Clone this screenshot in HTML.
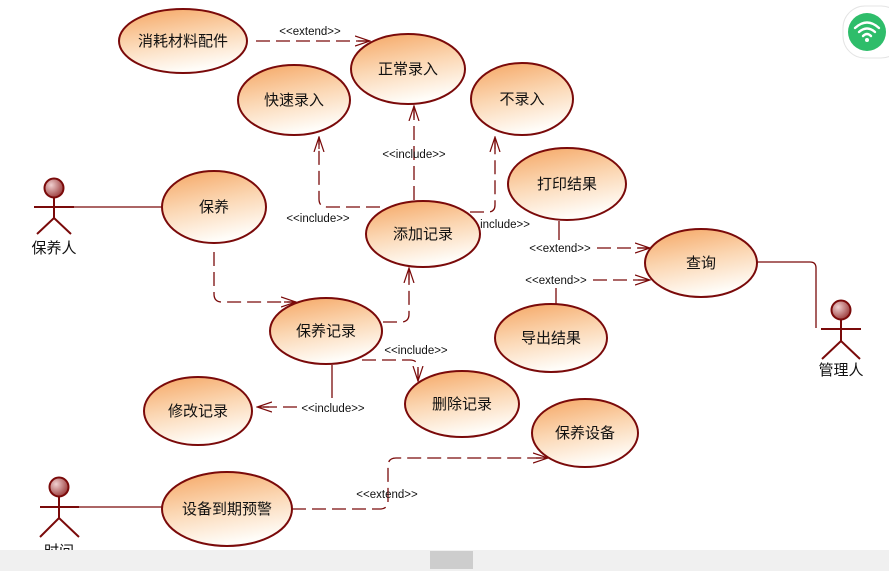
<!DOCTYPE html>
<html><head><meta charset="utf-8"><style>
html,body{margin:0;padding:0;background:#fff;width:889px;height:571px;overflow:hidden}
svg text{font-family:"Liberation Sans","Noto Sans CJK SC",sans-serif;fill:#111}
</style></head><body>
<svg width="889" height="571" viewBox="0 0 889 571" xmlns="http://www.w3.org/2000/svg">
<defs>
<linearGradient id="g" x1="0.1" y1="0" x2="0.4" y2="1">
<stop offset="0" stop-color="#f5a765"/><stop offset="0.5" stop-color="#fbd6b2"/><stop offset="1" stop-color="#fffdf9"/>
</linearGradient>
<radialGradient id="h" cx="0.35" cy="0.35" r="0.7"><stop offset="0" stop-color="#f0d0d0"/><stop offset="1" stop-color="#9a3a3a"/></radialGradient>
<marker id="a" markerWidth="16" markerHeight="12" refX="15" refY="6" orient="auto" markerUnits="userSpaceOnUse">
<path d="M0,1 L15,6 L0,11 M3,6 L15,6" fill="none" stroke="#7a0a0a" stroke-width="1.2"/>
</marker>
</defs>
<g fill="none" stroke="#7a0a0a" stroke-width="1.3">
<line x1="73" y1="207" x2="162" y2="207"/>
<line x1="79" y1="507" x2="162" y2="507"/>
<path d="M757,262 H810 Q816,262 816,268 V328"/>
<g stroke-dasharray="14,6">
<path d="M256,41 H370" marker-end="url(#a)"/>
<path d="M414,200 V106" marker-end="url(#a)"/>
<path d="M380,207 H327 Q319,207 319,199 V137" marker-end="url(#a)"/>
<path d="M470,212 H488 Q495,212 495,205 V137" marker-end="url(#a)"/>
<path d="M214,252 V294 Q214,302 222,302 H296" marker-end="url(#a)"/>
<path d="M383,322 H401 Q409,322 409,314 V268" marker-end="url(#a)"/>
<path d="M362,360 H410 Q418,360 418,368 V381" marker-end="url(#a)"/>
<path d="M297,407 H257" marker-end="url(#a)"/>
<path d="M597,248 H650" marker-end="url(#a)"/>
<path d="M593,280 H650" marker-end="url(#a)"/>
<path d="M292,509 H380 Q388,509 388,501 V466 Q388,458 396,458 H548" marker-end="url(#a)"/>
</g>
<line x1="332" y1="365" x2="332" y2="398"/>
<line x1="559" y1="221" x2="559" y2="240"/>
<line x1="556" y1="288" x2="556" y2="305"/>
</g>
<g fill="url(#g)" stroke="#7a0a0a" stroke-width="2">
<ellipse cx="183" cy="41" rx="64" ry="32"/>
<ellipse cx="408" cy="69" rx="57" ry="35"/>
<ellipse cx="294" cy="100" rx="56" ry="35"/>
<ellipse cx="522" cy="99" rx="51" ry="36"/>
<ellipse cx="214" cy="207" rx="52" ry="36"/>
<ellipse cx="423" cy="234" rx="57" ry="33"/>
<ellipse cx="567" cy="184" rx="59" ry="36"/>
<ellipse cx="701" cy="263" rx="56" ry="34"/>
<ellipse cx="551" cy="338" rx="56" ry="34"/>
<ellipse cx="326" cy="331" rx="56" ry="33"/>
<ellipse cx="198" cy="411" rx="54" ry="34"/>
<ellipse cx="462" cy="404" rx="57" ry="33"/>
<ellipse cx="585" cy="433" rx="53" ry="34"/>
<ellipse cx="227" cy="509" rx="65" ry="37"/>
</g>
<g font-size="15" text-anchor="middle">
<text x="183" y="46">消耗材料配件</text>
<text x="408" y="74">正常录入</text>
<text x="294" y="105">快速录入</text>
<text x="522" y="104">不录入</text>
<text x="214" y="212">保养</text>
<text x="423" y="239">添加记录</text>
<text x="567" y="189">打印结果</text>
<text x="701" y="268">查询</text>
<text x="551" y="343">导出结果</text>
<text x="326" y="336">保养记录</text>
<text x="198" y="416">修改记录</text>
<text x="462" y="409">删除记录</text>
<text x="585" y="438">保养设备</text>
<text x="227" y="514">设备到期预警</text>
<text x="54" y="253">保养人</text>
<text x="841" y="375">管理人</text>
<text x="59" y="556">时间</text>
</g>
<g font-size="11.5" text-anchor="middle" style="fill:#222">
<text x="310" y="35">&lt;&lt;extend&gt;&gt;</text>
<text x="414" y="158">&lt;&lt;include&gt;&gt;</text>
<text x="318" y="222">&lt;&lt;include&gt;&gt;</text>
<text x="505" y="228">include&gt;&gt;</text>
<text x="416" y="354">&lt;&lt;include&gt;&gt;</text>
<text x="333" y="412">&lt;&lt;include&gt;&gt;</text>
<text x="560" y="252">&lt;&lt;extend&gt;&gt;</text>
<text x="556" y="284">&lt;&lt;extend&gt;&gt;</text>
<text x="387" y="498">&lt;&lt;extend&gt;&gt;</text>
</g>
<g stroke="#7a0a0a" stroke-width="2" fill="none">
<circle cx="54" cy="188" r="9.5" fill="url(#h)"/>
<path d="M54,198 V218 M34,207 H74 M37,234 L54,218 L71,234"/>
<circle cx="59" cy="487" r="9.5" fill="url(#h)"/>
<path d="M59,497 V518 M40,507 H79 M40,537 L59,518 L79,537"/>
<circle cx="841" cy="310" r="9.5" fill="url(#h)"/>
<path d="M841,320 V341 M821,329 H861 M822,359 L841,341 L860,359"/>
</g>
<rect x="0" y="550" width="889" height="21" fill="#f0f0f0"/>
<rect x="430" y="551" width="43" height="18" fill="#cdcdcd"/>
<rect x="843" y="6" width="60" height="52" rx="22" fill="#fff" stroke="#e4e4e4"/>
<circle cx="867" cy="32" r="19" fill="#2ebd6a"/>
<g fill="none" stroke="#fff" stroke-width="2.4" stroke-linecap="round">
<path d="M855,28 Q867,17 879,28"/>
<path d="M859,32 Q867,25 875,32"/>
<path d="M863,36 Q867,32 871,36"/>
</g>
<circle cx="867" cy="40" r="2" fill="#fff"/>
</svg>
</body></html>
